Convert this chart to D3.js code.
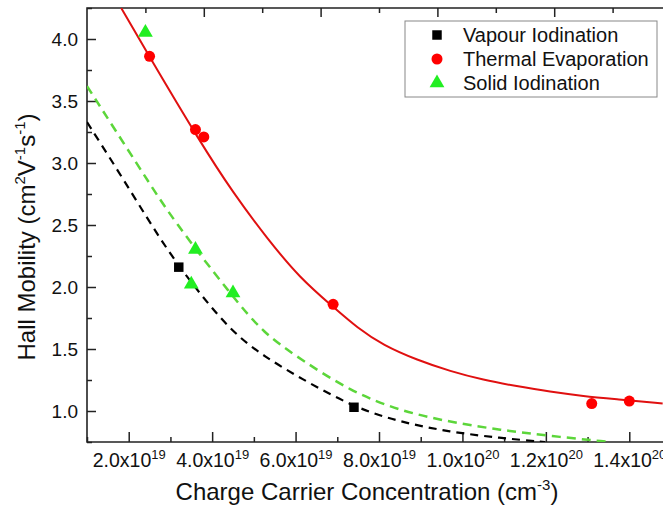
<!DOCTYPE html>
<html>
<head>
    <meta charset="utf-8">
    <title>Hall Mobility vs Carrier Concentration</title>
    <script src="https://d3js.org/d3.v7.min.js"></script>
    <style>
        body{ margin:0; background:#fff; }
        text{ font-family: "Liberation Sans", Arial, sans-serif; fill:#111; }
    </style>
</head>
<body>
<svg id="chart" width="663" height="510"></svg>
<script>
    /* measured points (x in cm^-3, y in cm2/Vs) */
    var vapourX = [3.2e19, 7.4e19];
    var vapourY = [2.16, 1.03];
    var thermalX = [2.5e19, 3.6e19, 3.8e19, 6.9e19, 1.31e20, 1.4e20];
    var thermalY = [3.86, 3.27, 3.21, 1.86, 1.06, 1.08];
    var solidX = [2.4e19, 3.6e19, 3.5e19, 4.5e19];
    var solidY = [4.06, 2.31, 2.03, 1.96];

    /* fit curves */
    var thermalFitX = [1.82e19, 2.49e19, 3.71e19, 4.50e19, 5.32e19, 6.11e19, 6.90e19, 7.48e19, 8.10e19, 8.92e19, 9.71e19, 1.05e20, 1.13e20, 1.21e20, 1.29e20, 1.37e20, 1.48e20];
    var thermalFitY = [4.25, 3.86, 3.17, 2.76, 2.39, 2.07, 1.84, 1.67, 1.53, 1.41, 1.32, 1.25, 1.20, 1.155, 1.12, 1.095, 1.06];
    var vapourFitX = [1.0e19, 1.74e19, 2.44e19, 3.04e19, 3.71e19, 4.50e19, 5.27e19, 6.11e19, 7.38e19, 8.50e19, 9.70e19, 1.09e20, 1.198e20];
    var vapourFitY = [3.33, 2.94, 2.556, 2.242, 1.944, 1.629, 1.435, 1.266, 1.032, 0.911, 0.831, 0.782, 0.75];
    var solidFitX = [1.0e19, 2.30e19, 3.06e19, 4.50e19, 5.22e19, 6.11e19, 7.31e19, 8.51e19, 9.71e19, 1.091e20, 1.211e20, 1.355e20];
    var solidFitY = [3.62, 2.94, 2.54, 1.92, 1.63, 1.42, 1.16, 1.00, 0.911, 0.847, 0.798, 0.75];

    var xTicks = [2e19, 4e19, 6e19, 8e19, 1e20, 1.2e20, 1.4e20];
    var xMinor = [1e19, 3e19, 5e19, 7e19, 9e19, 1.1e20, 1.3e20, 1.5e20];
    var yTicks = [1.0, 1.5, 2.0, 2.5, 3.0, 3.5, 4.0];
    var yMinor = [0.75, 1.25, 1.75, 2.25, 2.75, 3.25, 3.75, 4.25];
    var legendNames = ["Vapour Iodination", "Thermal Evaporation", "Solid Iodination"];

    var pLeft = 87, pTop = 8, pBottom = 442, pRight = 671;
    var svg = d3.select("#chart");

    var x = d3.scaleLinear().domain([1e19, 1.5e20]).range([pLeft, pRight]);
    var y = d3.scaleLinear().domain([0.75, 4.25]).range([pBottom, pTop]);
    var xTop = d3.scaleLinear().domain([0, 10]).range([pLeft, pRight]);

    svg.append("defs").append("clipPath").attr("id", "plotclip")
        .append("rect").attr("x", pLeft).attr("y", pTop)
        .attr("width", pRight - pLeft).attr("height", pBottom - pTop);

    function zip(a, b){
        return a.map(function(d, i){ return [d, b[i]]; });
    }

    // axes, ticks pointing inward
    var gx = svg.append("g").attr("transform", "translate(0," + pBottom + ")")
        .call(d3.axisBottom(x).tickValues(xTicks).tickSize(-10).tickPadding(12).tickFormat(""));
    svg.append("g").attr("transform", "translate(0," + pBottom + ")")
        .call(d3.axisBottom(x).tickValues(xMinor).tickSize(-5).tickFormat(""));
    svg.append("g").attr("transform", "translate(" + pLeft + ",0)")
        .call(d3.axisLeft(y).tickValues(yTicks).tickSize(-9).tickPadding(9).tickFormat(d3.format(".1f")));
    svg.append("g").attr("transform", "translate(" + pLeft + ",0)")
        .call(d3.axisLeft(y).tickValues(yMinor).tickSize(-5).tickFormat(""));
    svg.append("g").attr("transform", "translate(0," + pTop + ")")
        .call(d3.axisBottom(xTop).tickValues([2, 4, 6, 8, 10]).tickSize(9).tickFormat(""));
    svg.append("g").attr("transform", "translate(0," + pTop + ")")
        .call(d3.axisBottom(xTop).tickValues([1, 3, 5, 7, 9]).tickSize(5).tickFormat(""));

    svg.selectAll(".domain").remove();
    svg.selectAll(".tick line").attr("stroke", "#222").attr("stroke-width", 1.5);
    svg.selectAll(".tick text").attr("font-size", 19).attr("fill", "#111")
        .attr("font-family", "'Liberation Sans', Arial, sans-serif");

    // x labels like 2.0x10^19
    gx.selectAll(".tick").each(function(d){
        var e = Math.floor(Math.log10(d) + 1e-9);
        var m = d / Math.pow(10, e);
        var t = d3.select(this).append("text")
            .attr("y", 25).attr("text-anchor", "middle")
            .attr("font-size", 19.5).attr("fill", "#111");
        t.append("tspan").text(m.toFixed(1) + "x10");
        t.append("tspan").attr("font-size", 13).attr("dy", -8).text(e);
    });

    // frame
    svg.append("path")
        .attr("d", "M" + pRight + "," + pTop + "H" + pLeft + "V" + pBottom + "H" + pRight)
        .attr("fill", "none").attr("stroke", "#222").attr("stroke-width", 1.6);

    // fit lines
    var line = d3.line()
        .x(function(d){ return x(d[0]); })
        .y(function(d){ return y(d[1]); })
        .curve(d3.curveBasis);
    var plot = svg.append("g").attr("clip-path", "url(#plotclip)");

    plot.append("path").datum(zip(vapourFitX, vapourFitY)).attr("d", line)
        .attr("fill", "none").attr("stroke", "#000").attr("stroke-width", 2.2)
        .attr("stroke-dasharray", "8,6");
    plot.append("path").datum(zip(solidFitX, solidFitY)).attr("d", line)
        .attr("fill", "none").attr("stroke", "#5cd63a").attr("stroke-width", 2.5)
        .attr("stroke-dasharray", "9,6");
    plot.append("path").datum(zip(thermalFitX, thermalFitY)).attr("d", line)
        .attr("fill", "none").attr("stroke", "#e01010").attr("stroke-width", 2);

    // markers
    var sq = d3.symbol().type(d3.symbolSquare).size(90);
    var tri = d3.symbol().type(d3.symbolTriangle).size(95);

    plot.selectAll(".vap").data(zip(vapourX, vapourY)).enter().append("path")
        .attr("class", "vap").attr("d", sq).attr("fill", "#000")
        .attr("transform", function(d){ return "translate(" + x(d[0]) + "," + y(d[1]) + ")"; });
    plot.selectAll(".the").data(zip(thermalX, thermalY)).enter().append("circle")
        .attr("class", "the").attr("r", 5.5).attr("fill", "#ff0000")
        .attr("cx", function(d){ return x(d[0]); })
        .attr("cy", function(d){ return y(d[1]); });
    plot.selectAll(".sol").data(zip(solidX, solidY)).enter().append("path")
        .attr("class", "sol").attr("d", tri).attr("fill", "#22ee22")
        .attr("transform", function(d){ return "translate(" + x(d[0]) + "," + (y(d[1]) + 1) + ")"; });

    // legend
    var lg = svg.append("g").attr("transform", "translate(405,21)");
    lg.append("rect").attr("width", 252).attr("height", 76)
        .attr("fill", "#fff").attr("stroke", "#888").attr("stroke-width", 1);
    var rows = lg.selectAll(".row").data(legendNames).enter().append("g")
        .attr("transform", function(d, i){ return "translate(0," + (14 + i * 24) + ")"; });
    rows.append("path")
        .attr("d", function(d, i){ return i === 0 ? sq() : (i === 1 ? d3.symbol().type(d3.symbolCircle).size(95)() : tri()); })
        .attr("transform", "translate(32,0)")
        .attr("fill", function(d, i){ return ["#000", "#ff0000", "#22ee22"][i]; });
    rows.append("text").attr("x", 58).attr("dy", "0.35em")
        .attr("font-size", 20).text(function(d){ return d; });

    // axis titles
    var xt = svg.append("text").attr("x", 367).attr("y", 500)
        .attr("text-anchor", "middle").attr("font-size", 24);
    xt.append("tspan").text("Charge Carrier Concentration (cm");
    xt.append("tspan").attr("font-size", 15).attr("dy", -10).text("-3");
    xt.append("tspan").attr("dy", 10).text(")");

    var yt = svg.append("text").attr("transform", "translate(35,237) rotate(-90)")
        .attr("text-anchor", "middle").attr("font-size", 24);
    yt.append("tspan").text("Hall Mobility (cm");
    yt.append("tspan").attr("font-size", 15).attr("dy", -10).text("2");
    yt.append("tspan").attr("dy", 10).text("V");
    yt.append("tspan").attr("font-size", 15).attr("dy", -10).text("-1");
    yt.append("tspan").attr("dy", 10).text("s");
    yt.append("tspan").attr("font-size", 15).attr("dy", -10).text("-1");
    yt.append("tspan").attr("dy", 10).text(")");
</script>
</body>
</html>
